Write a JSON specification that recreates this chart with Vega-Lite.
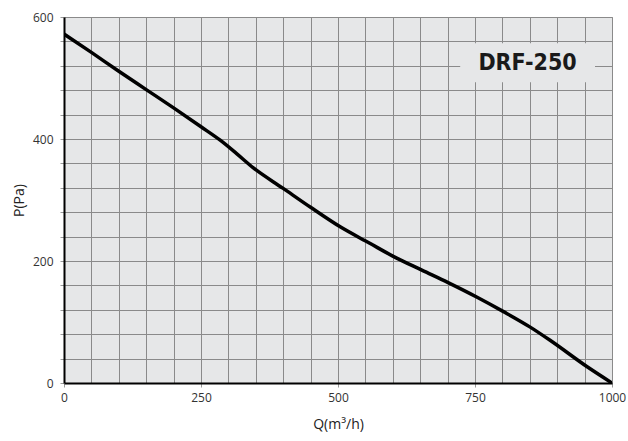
{
  "$schema": "https://vega.github.io/schema/vega-lite/v6.json",
  "width": 548,
  "height": 366,
  "autosize": "none",
  "padding": {"left": 64, "top": 17, "right": 16, "bottom": 58},
  "background": "white",
  "config": {
    "view": {"fill": "#e6e7e8", "stroke": "#999999", "strokeWidth": 1},
    "axis": {"labelFont": "Open Sans", "titleFont": "Open Sans", "labelColor": "#333333", "titleColor": "#222222", "labelFontSize": 12, "titleFontSize": 14, "titleFontWeight": "normal", "gridOpacity": 1, "gridWidth": 1, "domainColor": "#000000", "domainWidth": 2, "tickWidth": 1, "labelOverlap": false}
  },
  "datasets": {
    "curve": [
      {"Q": 0, "P": 572}, {"Q": 50, "P": 542}, {"Q": 100, "P": 511}, {"Q": 150, "P": 481},
      {"Q": 200, "P": 451}, {"Q": 250, "P": 420}, {"Q": 285, "P": 398}, {"Q": 315, "P": 376},
      {"Q": 345, "P": 353}, {"Q": 400, "P": 319}, {"Q": 450, "P": 288}, {"Q": 504, "P": 256},
      {"Q": 558, "P": 229}, {"Q": 600, "P": 208}, {"Q": 653, "P": 185}, {"Q": 700, "P": 165},
      {"Q": 753, "P": 141}, {"Q": 802, "P": 117}, {"Q": 850, "P": 92}, {"Q": 887, "P": 70},
      {"Q": 954, "P": 27}, {"Q": 1000, "P": 0}
    ],
    "label": [
      {"Q": 723, "Q2": 969, "P": 557, "P2": 493, "xc": 846, "yc": 524, "text": "DRF-250"}
    ]
  },
  "layer": [
    {
      "data": {"name": "label"},
      "mark": {"type": "rect", "color": "#e6e7e8"},
      "encoding": {
        "x": {
          "field": "Q", "type": "quantitative",
          "scale": {"domain": [0, 1000], "nice": false},
          "axis": {
            "title": "Q(m³/h)", "titlePadding": 14,
            "tickCount": 20,
            "gridColor": "#8a8a8a",
            "labelExpr": "datum.value % 250 === 0 ? datum.value : ''",
            "tickColor": {"condition": {"test": "datum.value % 250 === 0", "value": "#999999"}, "value": "transparent"},
            "tickSize": 4, "labelPadding": 5, "labelFlush": false
          }
        },
        "x2": {"field": "Q2"},
        "y": {
          "field": "P", "type": "quantitative",
          "scale": {"domain": [0, 600], "nice": false},
          "axis": {
            "title": "P(Pa)", "titlePadding": 6,
            "tickCount": 30,
            "gridColor": {"condition": {"test": "datum.value % 40 === 0", "value": "#8a8a8a"}, "value": "transparent"},
            "labelExpr": "datum.value % 200 === 0 ? datum.value : ''",
            "tickColor": {"condition": {"test": "datum.value % 40 === 0", "value": "#999999"}, "value": "transparent"},
            "tickSize": 4, "labelPadding": 7
          }
        },
        "y2": {"field": "P2"}
      }
    },
    {
      "data": {"name": "curve"},
      "mark": {"type": "line", "color": "#000000", "strokeWidth": 3.5, "clip": true, "interpolate": "monotone"},
      "encoding": {
        "x": {"field": "Q", "type": "quantitative"},
        "y": {"field": "P", "type": "quantitative"}
      }
    },
    {
      "data": {"name": "label"},
      "mark": {"type": "text", "font": "DejaVu Sans Condensed", "fontWeight": "bold", "fontSize": 23, "color": "#1a1a1a", "align": "center", "baseline": "middle"},
      "encoding": {
        "x": {"field": "xc", "type": "quantitative"},
        "y": {"field": "yc", "type": "quantitative"},
        "text": {"field": "text"}
      }
    }
  ]
}
